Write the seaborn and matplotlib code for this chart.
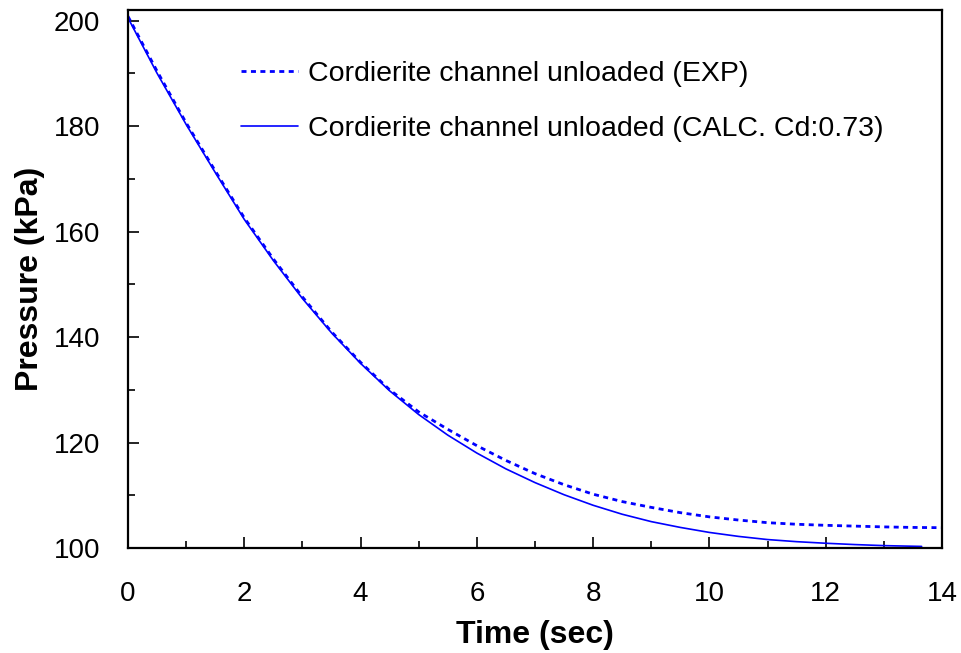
# Pressure decay in a cordierite channel: experiment vs calculation
import numpy as np
import pandas as pd
import seaborn as sns
import matplotlib.pyplot as plt
from matplotlib.ticker import MultipleLocator

# ------------- Data -------------
t_exp = [0, 0.5, 1, 1.5, 2, 2.5, 3, 3.5, 4, 4.5, 5, 5.5, 6, 6.5, 7, 7.5, 8,
         8.5, 9, 9.5, 10, 10.5, 11, 11.5, 12, 12.5, 13, 13.5, 14]
p_exp = [200.8, 190.4, 180.6, 171.5, 162.6, 154.8, 147.6, 141.0, 135.2, 130.0,
         125.8, 122.5, 119.4, 116.6, 114.1, 112.0, 110.2, 108.8, 107.7, 106.7,
         105.9, 105.3, 104.8, 104.5, 104.3, 104.15, 104.0, 103.9, 103.85]

t_calc = [0, 0.5, 1, 1.5, 2, 2.5, 3, 3.5, 4, 4.5, 5, 5.5, 6, 6.5, 7, 7.5, 8,
          8.5, 9, 9.5, 10, 10.5, 11, 11.5, 12, 12.5, 13, 13.65]
p_calc = [200.5, 190.0, 180.3, 171.2, 162.3, 154.5, 147.3, 140.8, 135.0, 129.8,
          125.3, 121.4, 118.0, 115.0, 112.4, 110.1, 108.1, 106.4, 105.0, 103.9,
          102.95, 102.2, 101.6, 101.2, 100.9, 100.65, 100.45, 100.3]

lbl_exp = "Cordierite channel unloaded (EXP)"
lbl_calc = "Cordierite channel unloaded (CALC. Cd:0.73)"

# ------------- Figure -------------
sns.set_style("ticks")
plt.rcParams['font.family'] = ['Liberation Sans', 'DejaVu Sans']
for k in ["text.color", "axes.labelcolor", "xtick.color", "ytick.color"]:
    plt.rcParams[k] = "black"

fig = plt.figure(figsize=(9.61, 6.53), dpi=100)
ax = fig.add_axes([0.1332, 0.1608, 0.847, 0.8239])

sns.lineplot(x=t_exp, y=p_exp, ax=ax, color="#0000ff", lw=2.0,
             linestyle=(0, (1.8, 1.6)), label=lbl_exp)
sns.lineplot(x=t_calc, y=p_calc, ax=ax, color="#0000ff", lw=1.2,
             label=lbl_calc)

ax.set_xlim(0, 14)
ax.set_ylim(100, 202)
ax.xaxis.set_major_locator(MultipleLocator(2))
ax.xaxis.set_minor_locator(MultipleLocator(1))
ax.yaxis.set_major_locator(MultipleLocator(20))
ax.yaxis.set_minor_locator(MultipleLocator(10))
ax.tick_params(which="both", direction="in", color="black", width=1.2,
               labelsize=20, top=False, right=False)
ax.tick_params(axis="x", which="major", length=8, pad=24)
ax.tick_params(axis="x", which="minor", length=5)
ax.tick_params(axis="y", which="major", length=8, pad=20)
ax.tick_params(axis="y", which="minor", length=5)

for s in ax.spines.values():
    s.set_visible(True)
    s.set_color("black")
    s.set_linewidth(1.6)

ax.set_xlabel("Time (sec)", fontsize=23, fontweight="bold", labelpad=9)
ax.set_ylabel("Pressure (kPa)", fontsize=23, fontweight="bold", labelpad=6)

ax.legend(loc="upper left", bbox_to_anchor=(0.1076, 0.953), frameon=False,
          fontsize=20.5, handlelength=2.0, handletextpad=0.35,
          labelspacing=1.02)

fig.savefig("out.png", dpi=100)
